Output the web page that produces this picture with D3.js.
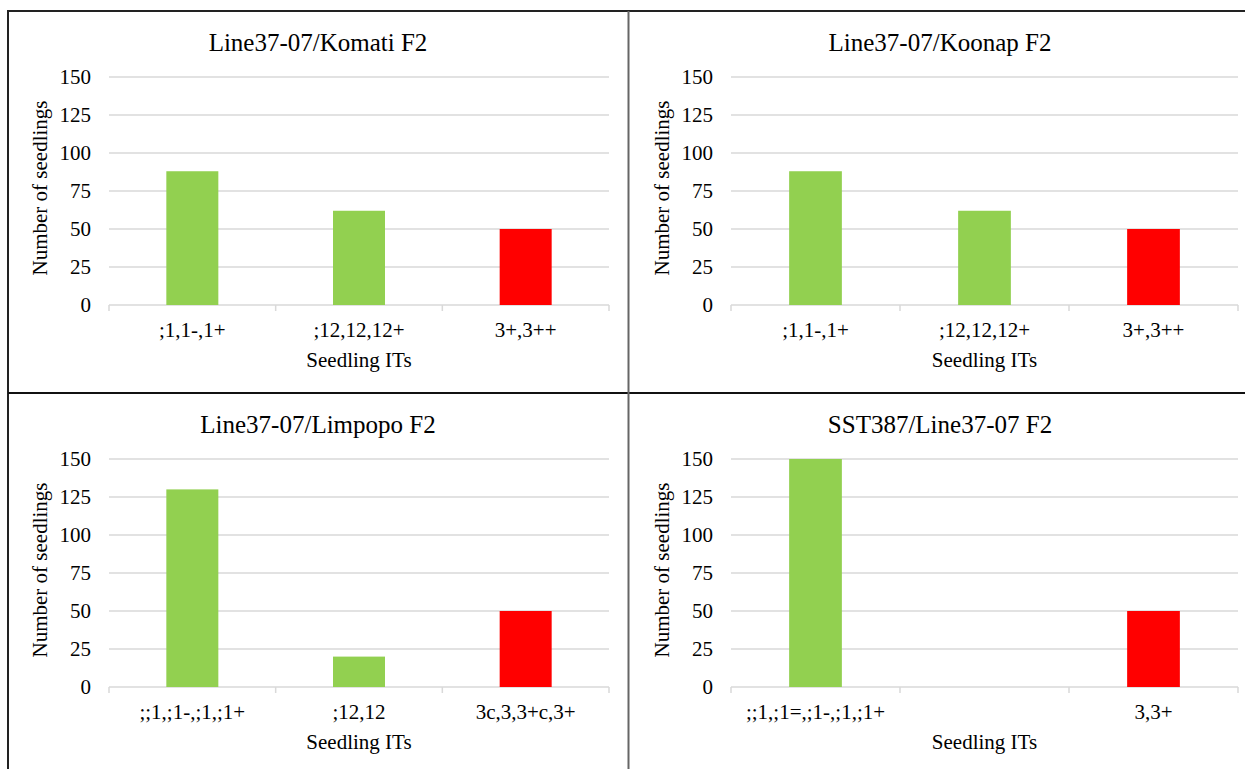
<!DOCTYPE html>
<html>
<head>
<meta charset="utf-8">
<script src="https://cdn.jsdelivr.net/npm/d3@7"></script>
<style>
  html, body { margin: 0; padding: 0; background: #fff; }
  svg { display: block; }
</style>
</head>
<body>
<svg id="chart" width="1245" height="769"></svg>
<script>
// ---- Data ----
const titles = ["Line37-07/Komati F2", "Line37-07/Koonap F2", "Line37-07/Limpopo F2", "SST387/Line37-07 F2"];
const komatiCategories = [";1,1-,1+", ";12,12,12+", "3+,3++"];
const komatiValues = [88, 62, 50];
const koonapCategories = [";1,1-,1+", ";12,12,12+", "3+,3++"];
const koonapValues = [88, 62, 50];
const limpopoCategories = [";;1,;1-,;1,;1+", ";12,12", "3c,3,3+c,3+"];
const limpopoValues = [130, 20, 50];
const sstCategories = [";;1,;1=,;1-,;1,;1+", "", "3,3+"];
const sstValues = [150, null, 50];
const barColors = ["#92d050", "#92d050", "#ff0000"];
const yTicks = [0, 25, 50, 75, 100, 125, 150];
const yLabel = "Number of seedlings";
const xLabel = "Seedling ITs";

const FONT = "Liberation Serif";

const panels = [
  { title: titles[0], cats: komatiCategories, vals: komatiValues, left: 109, width: 500, top: 77, bottom: 305 },
  { title: titles[1], cats: koonapCategories, vals: koonapValues, left: 731, width: 507, top: 77, bottom: 305 },
  { title: titles[2], cats: limpopoCategories, vals: limpopoValues, left: 109, width: 500, top: 459, bottom: 687 },
  { title: titles[3], cats: sstCategories, vals: sstValues, left: 731, width: 507, top: 459, bottom: 687 }
];

const svg = d3.select("#chart");

// frame lines
svg.append("line").attr("x1", 8).attr("x2", 1245).attr("y1", 11).attr("y2", 11)
  .attr("stroke", "#222").attr("stroke-width", 2);
svg.append("line").attr("x1", 8).attr("x2", 8).attr("y1", 10).attr("y2", 769)
  .attr("stroke", "#222").attr("stroke-width", 2);
svg.append("line").attr("x1", 8).attr("x2", 1245).attr("y1", 393).attr("y2", 393)
  .attr("stroke", "#111").attr("stroke-width", 2);
svg.append("line").attr("x1", 628.5).attr("x2", 628.5).attr("y1", 11).attr("y2", 769)
  .attr("stroke", "#666").attr("stroke-width", 2);

panels.forEach(p => {
  const g = svg.append("g");
  const idx = p.cats.map((d, i) => i);
  const x = d3.scaleBand().domain(idx).range([p.left, p.left + p.width])
    .paddingInner(0.688).paddingOuter(0.344);
  const y = d3.scaleLinear().domain([0, 150]).range([p.bottom, p.top]);

  // gridlines
  g.selectAll(".grid").data(yTicks).join("line")
    .attr("x1", p.left).attr("x2", p.left + p.width)
    .attr("y1", d => y(d)).attr("y2", d => y(d))
    .attr("stroke", "#d9d9d9").attr("stroke-width", 1.5);

  // y axis tick labels
  const yAxis = d3.axisLeft(y).tickValues(yTicks).tickSize(0).tickPadding(18);
  const ya = g.append("g").attr("transform", `translate(${p.left},0)`).call(yAxis);
  ya.select(".domain").remove();
  ya.selectAll("text").attr("fill", "#000")
    .style("font-family", FONT).style("font-size", "21px");

  // x axis category boundary ticks
  const bounds = d3.range(p.cats.length + 1).map(i => p.left + i * (p.width / p.cats.length));
  g.selectAll(".xt").data(bounds).join("line")
    .attr("x1", d => d).attr("x2", d => d)
    .attr("y1", p.bottom).attr("y2", p.bottom + 6)
    .attr("stroke", "#d9d9d9").attr("stroke-width", 1.5);

  // bars
  g.selectAll(".bar").data(p.vals.map((v, i) => ({ v, i })).filter(d => d.v != null)).join("rect")
    .attr("x", d => x(d.i)).attr("width", x.bandwidth())
    .attr("y", d => y(d.v)).attr("height", d => y(0) - y(d.v))
    .attr("fill", d => barColors[d.i]);

  // category labels
  g.selectAll(".cat").data(p.cats).join("text")
    .attr("x", (d, i) => x(i) + x.bandwidth() / 2)
    .attr("y", p.bottom + 25)
    .attr("dy", "0.35em")
    .attr("text-anchor", "middle")
    .style("font-family", FONT).style("font-size", "21px")
    .text(d => d);

  // x title
  g.append("text").attr("x", p.left + p.width / 2).attr("y", p.bottom + 55)
    .attr("dy", "0.35em").attr("text-anchor", "middle")
    .style("font-family", FONT).style("font-size", "21px")
    .text(xLabel);

  // y title
  g.append("text")
    .attr("transform", `translate(${p.left - 69},${(p.top + p.bottom) / 2 - 3}) rotate(-90)`)
    .attr("dy", "0.35em").attr("text-anchor", "middle")
    .style("font-family", FONT).style("font-size", "21px")
    .text(yLabel);

  // chart title
  g.append("text").attr("x", p.left + 209).attr("y", p.top - 35)
    .attr("dy", "0.35em").attr("text-anchor", "middle")
    .style("font-family", FONT).style("font-size", "25px")
    .text(p.title);
});
</script>
</body>
</html>
